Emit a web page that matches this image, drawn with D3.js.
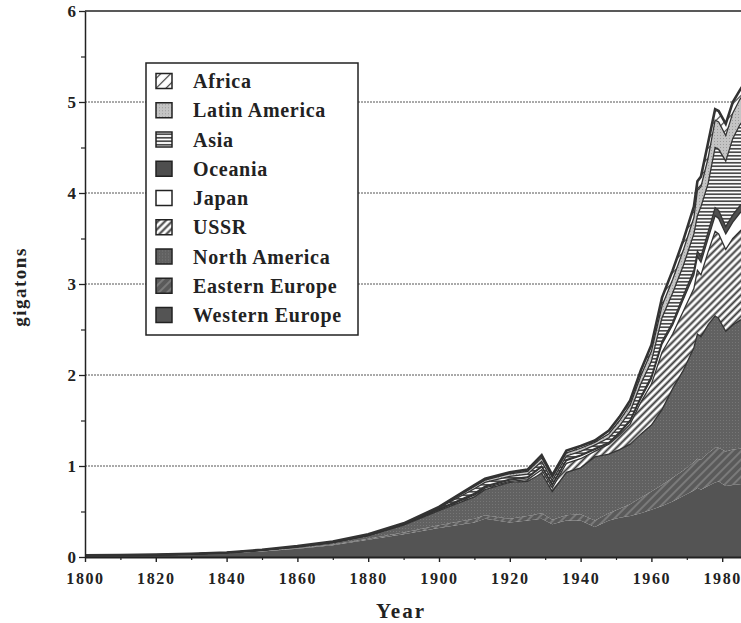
<!DOCTYPE html>
<html>
<head>
<meta charset="utf-8">
<script src="https://cdn.jsdelivr.net/npm/d3@7"></script>
<style>
  html, body { margin: 0; padding: 0; background: #fff; }
  svg { display: block; }
  text { font-family: "Liberation Serif", "DejaVu Serif", serif; font-weight: bold; fill: #222; }
</style>
</head>
<body>
<svg id="chart" width="741" height="623"></svg>
<script>
// ---------- data (gigatons of carbon) ----------
const years = [1800, 1810, 1820, 1830, 1840, 1850, 1860, 1870, 1880, 1890, 1900, 1910, 1913, 1920, 1925, 1929, 1932, 1936, 1940, 1944, 1948, 1951, 1954, 1957, 1960, 1963, 1966, 1969, 1972, 1973, 1974, 1976, 1978, 1979, 1981, 1983, 1985, 1987];
const westernEurope = [.015, .017, .02, .028, .04, .06, .09, .13, .19, .25, .32, .38, .42, .38, .40, .42, .36, .40, .40, .33, .40, .43, .45, .48, .52, .56, .61, .67, .73, .76, .74, .78, .82, .83, .78, .79, .80, .82];
const easternEurope = [0, 0, 0, 0, .001, .002, .004, .006, .01, .02, .03, .04, .04, .04, .05, .06, .05, .06, .07, .07, .08, .10, .13, .17, .20, .23, .26, .28, .31, .32, .33, .36, .38, .37, .38, .39, .39, .38];
const northAmerica = [.003, .003, .004, .005, .007, .013, .018, .024, .035, .08, .16, .24, .28, .40, .38, .44, .31, .47, .51, .70, .65, .65, .66, .70, .73, .83, .98, 1.10, 1.26, 1.37, 1.35, 1.41, 1.45, 1.42, 1.32, 1.37, 1.41, 1.45];
const ussr = [0, 0, 0, 0, 0, .001, .001, .002, .003, .005, .01, .02, .02, .01, .02, .04, .04, .10, .10, .06, .11, .16, .22, .35, .45, .63, .60, .65, .65, .70, .68, .80, .93, .93, .90, .95, .98, 1.00];
const japan = [0, 0, 0, 0, 0, 0, 0, 0, .001, .002, .005, .01, .01, .015, .02, .03, .03, .03, .03, .02, .01, .02, .03, .04, .06, .09, .10, .13, .15, .15, .14, .15, .17, .17, .17, .18, .20, .20];
const oceania = [0, 0, 0, 0, 0, 0, .001, .001, .002, .003, .005, .01, .01, .01, .01, .01, .01, .01, .01, .01, .01, .015, .015, .02, .025, .03, .03, .04, .05, .06, .06, .07, .09, .09, .08, .08, .08, .09];
const asia = [.001, .001, .001, .001, .001, .002, .002, .002, .004, .005, .01, .05, .04, .03, .03, .05, .04, .04, .04, .04, .05, .065, .095, .14, .165, .26, .32, .33, .40, .39, .55, .53, .66, .67, .72, .84, .89, .91];
const latinAmerica = [0, 0, 0, 0, 0, 0, .001, .002, .002, .003, .005, .025, .025, .03, .03, .04, .035, .035, .035, .03, .045, .06, .07, .09, .11, .13, .15, .17, .18, .28, .22, .28, .30, .30, .28, .28, .28, .28];
const africa = [.001, .001, .001, .001, .001, .002, .003, .003, .003, .002, .005, .015, .015, .015, .02, .03, .025, .025, .025, .02, .035, .04, .05, .06, .07, .09, .10, .11, .12, .10, .11, .17, .12, .12, .13, .12, .10, .12];

const regionNames = ["Western Europe", "Eastern Europe", "North America", "USSR", "Japan", "Oceania", "Asia", "Latin America", "Africa"];
const regionSeries = [westernEurope, easternEurope, northAmerica, ussr, japan, oceania, asia, latinAmerica, africa];
const legendOrder = ["Africa", "Latin America", "Asia", "Oceania", "Japan", "USSR", "North America", "Eastern Europe", "Western Europe"];
const yTicks = [0, 1, 2, 3, 4, 5, 6];
const xTickLabels = [1800, 1820, 1840, 1860, 1880, 1900, 1920, 1940, 1960, 1980];

// ---------- table for d3.stack ----------
const table = years.map((yr, i) => {
  const row = { year: yr };
  regionNames.forEach((n, k) => { row[n] = regionSeries[k][i]; });
  return row;
});

const svg = d3.select("#chart");
const W = 741, H = 623;
const x = d3.scaleLinear().domain([1800, 2000]).range([85, 793]);
const y = d3.scaleLinear().domain([0, 6]).range([557, 11]);

// ---------- patterns ----------
const defs = svg.append("defs");
function solid(id, color) {
  const p = defs.append("pattern").attr("id", id).attr("patternUnits", "userSpaceOnUse").attr("width", 4).attr("height", 4);
  p.append("rect").attr("width", 4).attr("height", 4).attr("fill", color);
  return p;
}
function lines(id, bg, fg, spacing, sw, angle) {
  const p = defs.append("pattern").attr("id", id).attr("patternUnits", "userSpaceOnUse")
    .attr("width", spacing).attr("height", spacing).attr("patternTransform", `rotate(${angle})`);
  p.append("rect").attr("width", spacing).attr("height", spacing).attr("fill", bg);
  p.append("line").attr("x1", spacing / 2).attr("x2", spacing / 2).attr("y1", 0).attr("y2", spacing)
    .attr("stroke", fg).attr("stroke-width", sw);
  return p;
}
function dotted(id, bg, fg) {
  const p = defs.append("pattern").attr("id", id).attr("patternUnits", "userSpaceOnUse").attr("width", 3).attr("height", 3);
  p.append("rect").attr("width", 3).attr("height", 3).attr("fill", bg);
  p.append("rect").attr("x", 0).attr("y", 0).attr("width", 1).attr("height", 1).attr("fill", fg);
  return p;
}
solid("pWE", "#545454");
lines("pEE", "#5a5a5a", "#858585", 6, 1.5, 45);
dotted("pNA", "#616161", "#767676");
lines("pUSSR", "#ffffff", "#3a3a3a", 5, 2, 45);
solid("pJP", "#ffffff");
solid("pOC", "#4e4e4e");
lines("pAS", "#ffffff", "#3a3a3a", 3.5, 1.6, 90);
dotted("pLA", "#c4c4c4", "#9a9a9a");
lines("pAF", "#ffffff", "#3a3a3a", 7, 1.2, 45);
const fills = {
  "Western Europe": "url(#pWE)", "Eastern Europe": "url(#pEE)", "North America": "url(#pNA)",
  "USSR": "url(#pUSSR)", "Japan": "url(#pJP)", "Oceania": "url(#pOC)", "Asia": "url(#pAS)",
  "Latin America": "url(#pLA)", "Africa": "url(#pAF)"
};

defs.append("clipPath").attr("id", "plotClip").append("rect")
  .attr("x", 85).attr("y", 11).attr("width", 708).attr("height", 546);

// ---------- grid ----------
svg.append("g").selectAll("line").data(yTicks.filter(d => d > 0 && d < 6)).join("line")
  .attr("x1", 85).attr("x2", W).attr("y1", d => y(d)).attr("y2", d => y(d))
  .attr("stroke", "#555").attr("stroke-width", 1).attr("stroke-dasharray", "2,1");

// ---------- stacked areas ----------
const stack = d3.stack().keys(regionNames);
const layers = stack(table);
const area = d3.area().x(d => x(d.data.year)).y0(d => y(d[0])).y1(d => y(d[1]));
const topLine = d3.line().x(d => x(d.data.year)).y(d => y(d[1]));

const plot = svg.append("g").attr("clip-path", "url(#plotClip)");
plot.selectAll("path.area").data(layers).join("path")
  .attr("class", "area")
  .attr("d", area)
  .attr("fill", d => fills[d.key]);
plot.selectAll("path.edge").data(layers).join("path")
  .attr("class", "edge")
  .attr("d", topLine)
  .attr("fill", "none")
  .attr("stroke", "#333")
  .attr("stroke-width", d => d.key === "Africa" ? 2.6 : (d.key === "Western Europe" || d.key === "Eastern Europe" ? 0 : 1.3))
  .attr("stroke-linejoin", "miter");

// ---------- axes ----------
svg.append("line").attr("x1", 85).attr("x2", W).attr("y1", y(6)).attr("y2", y(6))
  .attr("stroke", "#222").attr("stroke-width", 1.5);

const yAxis = d3.axisLeft(y).tickValues(yTicks).tickSize(6).tickSizeOuter(0).tickFormat(d3.format("d"));
const gy = svg.append("g").attr("transform", "translate(85,0)").call(yAxis);
gy.select(".domain").attr("stroke", "#222").attr("stroke-width", 1.5);
gy.selectAll(".tick line").attr("stroke", "#222").attr("stroke-width", 1.3);
gy.selectAll(".tick text").attr("x", -9).attr("font-size", 17).attr("font-family", "Liberation Serif, serif")
  .attr("font-weight", "bold").attr("fill", "#222");
const yMinor = d3.axisLeft(y).tickValues(d3.range(0.5, 6, 1)).tickSize(4).tickFormat("");
const gym = svg.append("g").attr("transform", "translate(85,0)").call(yMinor);
gym.select(".domain").remove();
gym.selectAll(".tick line").attr("stroke", "#222").attr("stroke-width", 1.2);

const xAxis = d3.axisBottom(x).tickValues(xTickLabels).tickSize(5).tickSizeOuter(0).tickFormat(d3.format("d"));
const gx = svg.append("g").attr("transform", "translate(0,557)").call(xAxis);
gx.select(".domain").attr("stroke", "#222").attr("stroke-width", 2);
gx.selectAll(".tick line").attr("stroke", "#222").attr("stroke-width", 1.4);
gx.selectAll(".tick text").attr("y", 16).attr("font-size", 16).attr("font-family", "Liberation Serif, serif")
  .attr("font-weight", "bold").attr("fill", "#222").style("letter-spacing", "1.6px");
const xMinor = d3.axisBottom(x).tickValues(d3.range(1810, 1990, 20)).tickSize(3).tickFormat("");
const gxm = svg.append("g").attr("transform", "translate(0,557)").call(xMinor);
gxm.select(".domain").remove();
gxm.selectAll(".tick line").attr("stroke", "#222").attr("stroke-width", 1.2);

// axis titles
svg.append("text").attr("x", 401).attr("y", 618).attr("text-anchor", "middle")
  .attr("font-size", 21).style("letter-spacing", "2px").text("Year");
svg.append("text").attr("transform", "translate(26,287) rotate(-90)").attr("text-anchor", "middle")
  .attr("font-size", 19).style("letter-spacing", "1.5px").text("gigatons");

// ---------- legend ----------
const lg = svg.append("g");
lg.append("rect").attr("x", 146).attr("y", 63).attr("width", 212).attr("height", 272)
  .attr("fill", "#fff").attr("stroke", "#222").attr("stroke-width", 1.5);
const rowY = d3.scalePoint().domain(legendOrder).range([81, 315]);
const items = lg.selectAll("g.item").data(legendOrder).join("g").attr("class", "item")
  .attr("transform", d => `translate(0,${rowY(d)})`);
items.append("rect").attr("x", 156).attr("y", -7.5).attr("width", 16).attr("height", 15)
  .attr("fill", d => fills[d]).attr("stroke", "#222").attr("stroke-width", 1.5);
items.append("text").attr("x", 193).attr("y", 7).attr("font-size", 20).style("letter-spacing", "0.7px").text(d => d);
</script>
</body>
</html>
